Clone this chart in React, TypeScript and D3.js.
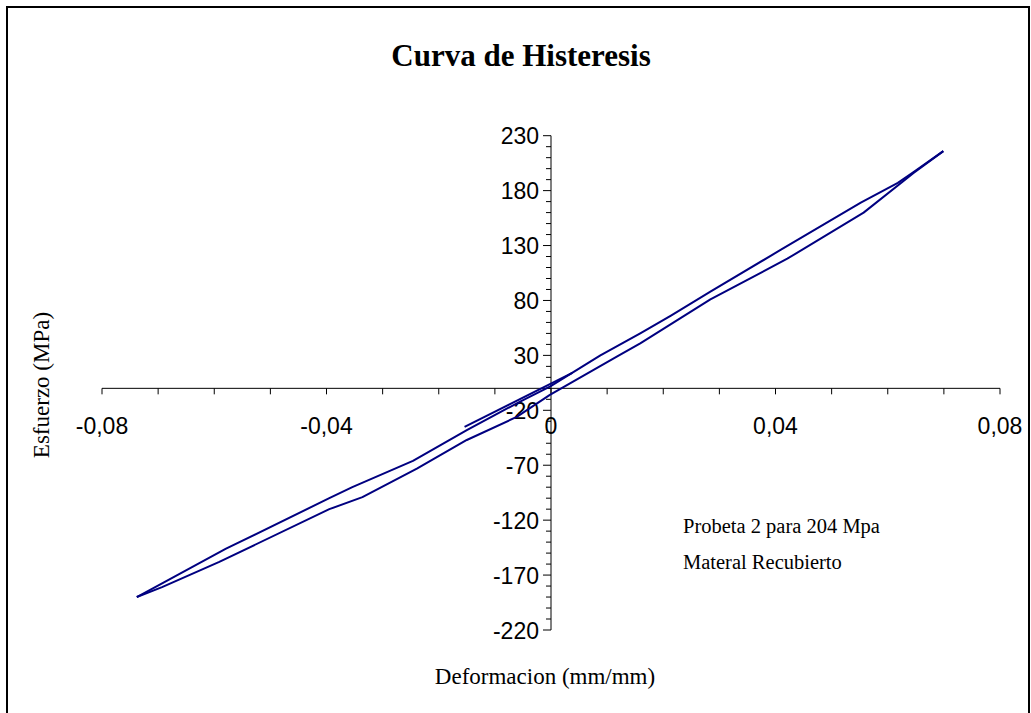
import React, { useEffect, useRef } from 'react';
import * as d3 from 'd3';

// Rama superior (descarga): del máximo al mínimo
const upperStrain = [0.0699, 0.0646, 0.0618, 0.0552, 0.0409, 0.0284, 0.0213, 0.0159, 0.0088, -0.0002, -0.0055, -0.015, -0.0246, -0.0354, -0.0395, -0.0579, -0.0738];
const upperStress = [216, 197, 187, 169, 126, 88, 66, 50, 30, 1.5, -12, -38, -66, -90, -100, -146, -190];

// Rama inferior (carga): del mínimo al máximo
const lowerStrain = [-0.0738, -0.0693, -0.0591, -0.0395, -0.0336, -0.0239, -0.015, -0.0061, -0.0002, 0.0118, 0.0159, 0.0284, 0.0421, 0.0557, 0.0646, 0.0699];
const lowerStress = [-190, -181, -158, -110, -99, -73, -47, -26, -6, 29, 41, 81, 118, 160, 196, 216];

// pequeño tramo inicial
const startStrain = [-0.0154, 0.0038];
const startStress = [-35, 14];

const yTicks = [230, 180, 130, 80, 30, -20, -70, -120, -170, -220];
const xTicks = [-0.08, -0.04, 0, 0.04, 0.08];
const xTickLabels = ['-0,08', '-0,04', '0', '0,04', '0,08'];

const chartTitle = 'Curva de Histeresis';
const xTitle = 'Deformacion (mm/mm)';
const yTitle = 'Esfuerzo (MPa)';
const noteLines = ['Probeta 2 para 204 Mpa', 'Materal Recubierto'];

export default function App() {
  const svgRef = useRef<SVGSVGElement>(null);

  useEffect(() => {
    const width = 1031;
    const height = 713;
    const sans = '"Liberation Sans", Arial, sans-serif';
    const serif = '"Liberation Serif", "Times New Roman", serif';
    const lineColor = '#000080';

    const svg = d3.select(svgRef.current);
    svg.selectAll('*').remove();
    svg.attr('width', width).attr('height', height);

    svg.append('rect')
      .attr('width', width).attr('height', height).attr('fill', '#fff');

    // marco
    svg.append('rect')
      .attr('x', 7).attr('y', 7)
      .attr('width', 1022).attr('height', 720)
      .attr('fill', 'none')
      .attr('stroke', '#000')
      .attr('stroke-width', 2);

    const x = d3.scaleLinear().domain([-0.08, 0.08]).range([102, 1000]);
    const y = d3.scaleLinear().domain([-220, 230]).range([630, 135.7]);

    // eje X (en esfuerzo = 0)
    const y0 = y(0);
    svg.append('line')
      .attr('x1', x(-0.08)).attr('x2', x(0.08))
      .attr('y1', y0).attr('y2', y0)
      .attr('stroke', '#000').attr('stroke-width', 1);

    d3.range(-8, 9).forEach(i => {
      const xv = x(i / 100);
      svg.append('line')
        .attr('x1', xv).attr('x2', xv)
        .attr('y1', y0).attr('y2', y0 + 6)
        .attr('stroke', '#000').attr('stroke-width', 1);
    });

    xTicks.forEach((t, i) => {
      svg.append('text')
        .attr('x', x(t)).attr('y', 434)
        .attr('text-anchor', 'middle')
        .style('font-family', sans)
        .style('font-size', '23px')
        .text(xTickLabels[i]);
    });

    // eje Y (en deformación = 0)
    const x0 = x(0);
    svg.append('line')
      .attr('x1', x0).attr('x2', x0)
      .attr('y1', y(230)).attr('y2', y(-220))
      .attr('stroke', '#000').attr('stroke-width', 1);

    d3.range(-220, 231, 10).forEach(v => {
      const major = (v + 220) % 50 === 0;
      svg.append('line')
        .attr('x1', x0 - (major ? 8 : 5)).attr('x2', x0)
        .attr('y1', y(v)).attr('y2', y(v))
        .attr('stroke', '#000').attr('stroke-width', 1);
    });

    yTicks.forEach(t => {
      svg.append('text')
        .attr('x', 539).attr('y', y(t) + 8.5)
        .attr('text-anchor', 'end')
        .style('font-family', sans)
        .style('font-size', '23px')
        .text(t);
    });

    // curvas
    const line = d3.line<[number, number]>()
      .x(d => x(d[0]))
      .y(d => y(d[1]));

    const upper = upperStrain.map((s, i) => [s, upperStress[i]] as [number, number]);
    const lower = lowerStrain.map((s, i) => [s, lowerStress[i]] as [number, number]);
    const start = startStrain.map((s, i) => [s, startStress[i]] as [number, number]);

    [upper, lower, start].forEach(pts => {
      svg.append('path')
        .datum(pts)
        .attr('fill', 'none')
        .attr('stroke', lineColor)
        .attr('stroke-width', 2)
        .attr('stroke-linejoin', 'round')
        .attr('d', line);
    });

    // títulos
    svg.append('text')
      .attr('x', 521).attr('y', 66)
      .attr('text-anchor', 'middle')
      .style('font-family', serif)
      .style('font-weight', 'bold')
      .style('font-size', '31px')
      .text(chartTitle);

    svg.append('text')
      .attr('x', 545).attr('y', 684)
      .attr('text-anchor', 'middle')
      .style('font-family', serif)
      .style('font-size', '23px')
      .text(xTitle);

    svg.append('text')
      .attr('transform', 'translate(49,385) rotate(-90)')
      .attr('text-anchor', 'middle')
      .style('font-family', serif)
      .style('font-size', '23px')
      .text(yTitle);

    noteLines.forEach((t, i) => {
      svg.append('text')
        .attr('x', 683).attr('y', 533 + i * 36)
        .style('font-family', serif)
        .style('font-size', '20.5px')
        .text(t);
    });
  }, []);

  return (
    <svg ref={svgRef} style={{ position: 'absolute', left: 0, top: 0, display: 'block' }} />
  );
}
